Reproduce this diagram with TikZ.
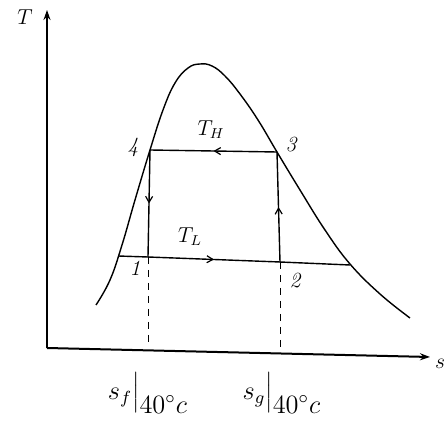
\documentclass[tikz,border=0pt]{standalone}
\usetikzlibrary{arrows.meta,decorations.markings}
\begin{document}
\begin{tikzpicture}[x=1pt,y=-1pt,
  ink/.style={line width=1.4pt,black},
  axisline/.style={line width=2pt,-{Stealth[length=10pt,width=7pt]}},
  midarrow/.style={decoration={markings,mark=at position 0.5 with {\arrow{Straight Barb[length=6pt,width=7pt,line width=1.2pt]}}},postaction={decorate}},
  dashline/.style={line width=1pt,dash pattern=on 7pt off 6pt},
  lbl/.style={font=\large\itshape,scale=1.8,inner sep=0.5pt},
  bigl/.style={font=\large,scale=2.2,inner sep=0.5pt}]
\useasboundingbox (0,0) rectangle (448,427);
% axes
\coordinate (O) at (47,348);
\coordinate (Tend) at (47,10);
\coordinate (Send) at (430,357);
\draw[axisline] (O) -- (Tend);
\draw[axisline] (O) -- (Send);
\node[lbl] (Tlab) at (25,17) {$T$};
\node[lbl] (Slab) at (440,364) {$s$};
% saturation dome
\draw[ink] plot[smooth,tension=0.7] coordinates {(96,305) (110,280) (122,245) (135,200) (150,150) (163,110) (175,83) (188,68) (200,64) (212,66) (225,76) (240,94) (258,120) (277,152) (300,190) (325,230) (350,264) (380,294) (410,318)};
% cycle points
\coordinate (p4) at (150,150);
\coordinate (p3) at (277,152);
\coordinate (p1) at (148,257);
\coordinate (p2) at (280,262);
\coordinate (fl) at (118,256);
\coordinate (gr) at (350,265);
\coordinate (d1) at (148,347);
\coordinate (d2) at (280,353);
\draw[ink,midarrow] (p3) -- (p4);
\draw[ink,midarrow] (p4) -- (p1);
\draw[ink,midarrow] (p1) -- (p2);
\draw[ink,midarrow] (p2) -- (p3);
\draw[ink] (fl) -- (p1);
\draw[ink] (p2) -- (gr);
\draw[dashline] (p1) -- (d1);
\draw[dashline] (p2) -- (d2);
% labels
\node[lbl] (l4) at (133,147) {4};
\node[lbl] (l3) at (291,145) {3};
\node[lbl] (l1) at (135,268) {1};
\node[lbl] (l2) at (295,281) {2};
\node[lbl] (lTH) at (211,130) {$T_H$};
\node[lbl] (lTL) at (190,237) {$T_L$};
\node[bigl] (sf) at (148,393) {$s_f\Big|_{\textstyle 40^\circ c}$};
\node[bigl] (sg) at (282,393) {$s_g\Big|_{\textstyle 40^\circ c}$};
\end{tikzpicture}
\end{document}
